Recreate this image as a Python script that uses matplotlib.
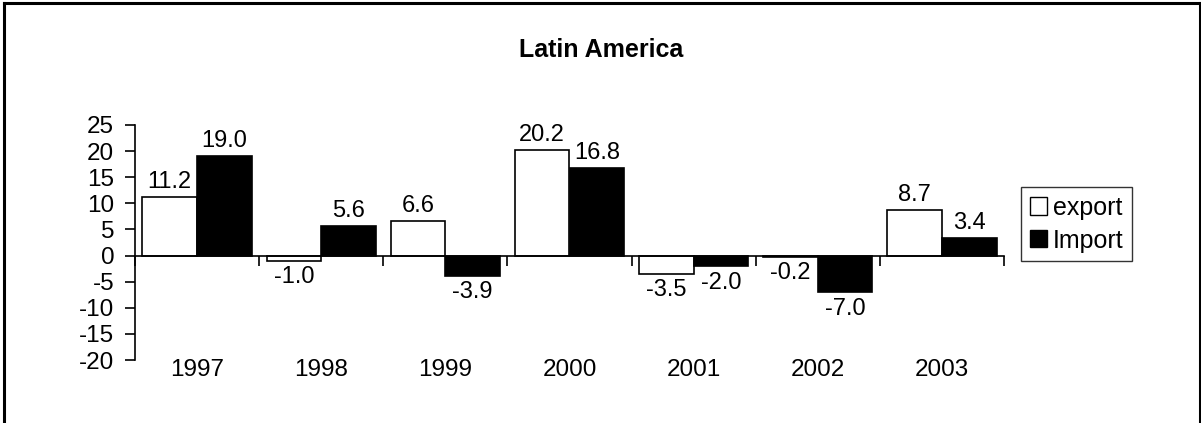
import matplotlib
matplotlib.use("Agg")
import matplotlib.pyplot as plt
from matplotlib.lines import Line2D
from matplotlib.patches import Patch
import numpy as np

plt.rcParams['font.family'] = ['Liberation Sans', 'DejaVu Sans']

years = ['1997', '1998', '1999', '2000', '2001', '2002', '2003']
export = [11.2, -1.0, 6.6, 20.2, -3.5, -0.2, 8.7]
imports = [19.0, 5.6, -3.9, 16.8, -2.0, -7.0, 3.4]
title = 'Latin America'
yticks = [25, 20, 15, 10, 5, 0, -5, -10, -15, -20]

W, H = 1201, 423
fig = plt.figure(figsize=(W / 100, H / 100), dpi=100)
ax = fig.add_axes([135 / W, 1 - 360 / H, (1004 - 135) / W, (360 - 125) / H])

x = np.arange(len(years))
bw = 0.44
ax.bar(x - bw / 2, export, bw, color='white', edgecolor='black', linewidth=1.2, label='export')
ax.bar(x + bw / 2, imports, bw, color='black', edgecolor='black', linewidth=1.2, label='Import')

for xs, vals in ((x - bw / 2, export), (x + bw / 2, imports)):
    for xi, v in zip(xs, vals):
        if v >= 0:
            ax.annotate(f'{v:.1f}', (xi, v), xytext=(0, 3), textcoords='offset points',
                        ha='center', va='bottom', fontsize=17)
        else:
            ax.annotate(f'{v:.1f}', (xi, v), xytext=(0, -4), textcoords='offset points',
                        ha='center', va='top', fontsize=17)

ax.set_xlim(-0.5, len(years) - 0.5)
ax.set_ylim(-20, 25)
ax.set_yticks(yticks)
ax.set_yticklabels([str(t) for t in yticks], fontsize=17.5)
ax.tick_params(axis='y', direction='out', length=7, width=1.2, pad=8)

ax.spines['top'].set_visible(False)
ax.spines['right'].set_visible(False)
ax.spines['left'].set_linewidth(1.2)
ax.spines['bottom'].set_position(('data', 0))
ax.spines['bottom'].set_linewidth(1.2)
ax.set_xticks(np.arange(len(years) + 1) - 0.5)
ax.set_xticklabels([])
ax.tick_params(axis='x', direction='out', length=7, width=1.2)

for xi, lab in zip(x, years):
    ax.annotate(lab, (xi, -20), xytext=(0, -7), textcoords='offset points',
                ha='center', va='center', fontsize=17.5)

fig.text(601 / W, 1 - 50 / H, title, ha='center', va='center', fontsize=18, fontweight='bold')

handles = [Patch(facecolor='white', edgecolor='black', label='export'),
           Patch(facecolor='black', edgecolor='black', label='Import')]
leg = fig.legend(handles=handles, loc='upper left',
                 bbox_to_anchor=(1021 / W, 1 - 187 / H), fontsize=18,
                 frameon=True, fancybox=False, edgecolor='black',
                 handlelength=0.68, handleheight=0.68, handletextpad=0.25,
                 borderpad=0.35, labelspacing=0.35, borderaxespad=0)
leg.get_frame().set_linewidth(1.0)

lw = 2.2
fig.add_artist(Line2D([3.5 / W, 3.5 / W], [0, 1 - 3.5 / H], transform=fig.transFigure, color='black', lw=lw))
fig.add_artist(Line2D([3.5 / W, 1 - 1.5 / W], [1 - 3.5 / H, 1 - 3.5 / H], transform=fig.transFigure, color='black', lw=lw))
fig.add_artist(Line2D([1 - 1.5 / W, 1 - 1.5 / W], [0, 1 - 3.5 / H], transform=fig.transFigure, color='black', lw=lw))

fig.savefig('out.png', dpi=100)
